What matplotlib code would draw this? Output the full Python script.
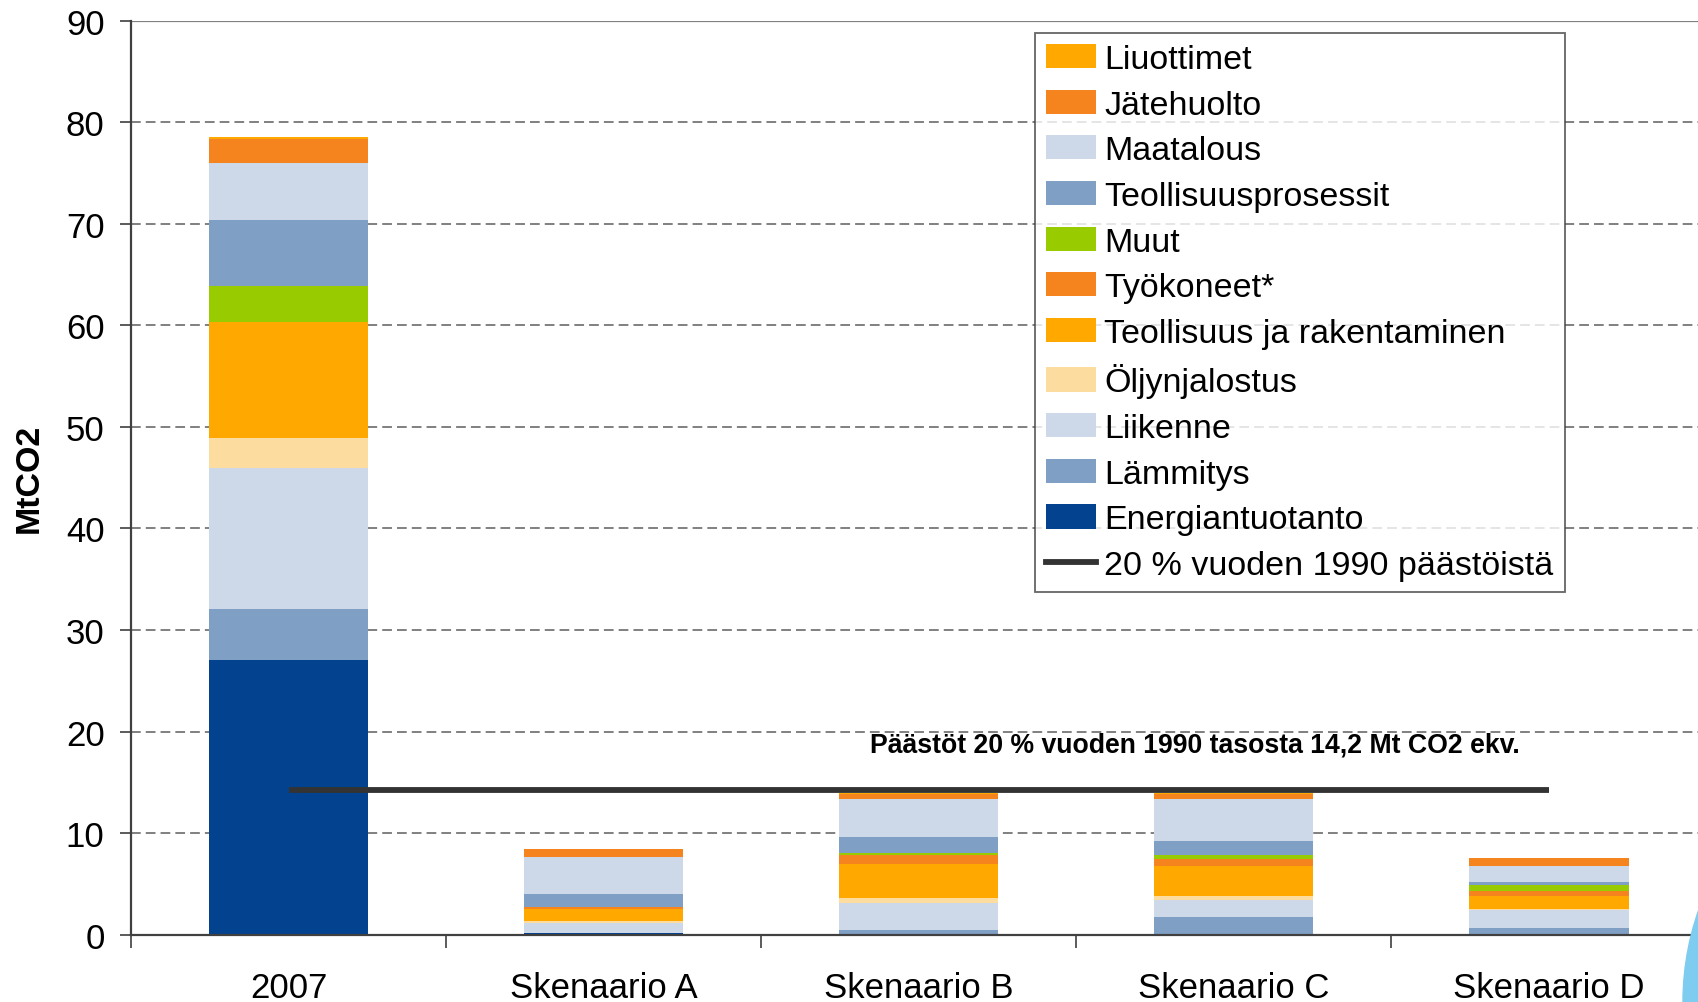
import matplotlib
matplotlib.use("Agg")
import matplotlib.pyplot as plt
import numpy as np
from matplotlib.patches import Ellipse
from matplotlib.lines import Line2D
from matplotlib.patches import Patch

plt.rcParams['font.family'] = ['Liberation Sans', 'DejaVu Sans']

categories = ['2007', 'Skenaario A', 'Skenaario B', 'Skenaario C', 'Skenaario D']
energiantuotanto = [27.08, 0.15, 0.0, 0.0, 0.09]
lammitys = [5.01, 0.0, 0.45, 1.73, 0.59]
liikenne = [13.87, 1.0, 2.66, 1.68, 1.77]
oljynjalostus = [2.98, 0.17, 0.49, 0.39, 0.10]
teollisuus = [11.38, 1.18, 3.35, 2.95, 1.29]
tyokoneet = [0.0, 0.23, 0.89, 0.69, 0.49]
muut = [3.55, 0.0, 0.20, 0.40, 0.59]
prosessit = [6.50, 1.25, 1.57, 1.38, 0.26]
maatalous = [5.61, 3.64, 3.74, 4.13, 1.57]
jatehuolto = [2.37, 0.80, 0.50, 0.50, 0.79]
liuottimet = [0.19, 0.0, 0.05, 0.05, 0.0]
target_level = 14.2

series = [
    ('Energiantuotanto', energiantuotanto, '#03428F'),
    ('Lämmitys', lammitys, '#7F9FC5'),
    ('Liikenne', liikenne, '#CDD9E8'),
    ('Öljynjalostus', oljynjalostus, '#FDDD9F'),
    ('Teollisuus ja rakentaminen', teollisuus, '#FFA800'),
    ('Työkoneet*', tyokoneet, '#F5841F'),
    ('Muut', muut, '#99CC00'),
    ('Teollisuusprosessit', prosessit, '#7F9FC5'),
    ('Maatalous', maatalous, '#CDD9E8'),
    ('Jätehuolto', jatehuolto, '#F5841F'),
    ('Liuottimet', liuottimet, '#FFA800'),
]

W, H = 1698, 1003
fig = plt.figure(figsize=(W / 100, H / 100), dpi=100)
ax = fig.add_axes([131 / W, 1 - 935.6 / H, 1575.6 / W, 913.9 / H])

x = np.arange(len(categories))
bottom = np.zeros(len(categories))
handles = []
for name, vals, col in series:
    v = np.array(vals, dtype=float)
    ax.bar(x, v, 0.505, bottom=bottom, color=col, zorder=3, linewidth=0)
    bottom += v
    handles.append(Patch(facecolor=col, edgecolor='none', label=name))

ax.plot([x[0], x[-1]], [target_level, target_level], color='#333333', lw=4.2,
        zorder=4, solid_capstyle='butt')

ax.text(2.875, 18.7, 'Päästöt 20 % vuoden 1990 tasosta 14,2 Mt CO2 ekv.',
        ha='center', va='center', fontsize=19.2, fontweight='bold',
        family=['Liberation Sans'], zorder=5)

ax.set_xlim(-0.5, 4.5)
ax.set_ylim(0, 90)
ax.set_yticks(np.arange(0, 91, 10))
ax.set_yticklabels([str(v) for v in range(0, 91, 10)])
for yv in range(10, 90, 10):
    ax.axhline(yv, color='#808080', lw=1.4, linestyle=(0, (5, 2.6)), zorder=1)
ax.axhline(90, color='#808080', lw=1.6, zorder=1)

ax.set_xticks(np.arange(-0.5, 5.0, 1.0))
ax.set_xticklabels([])
ax.set_xticks(x, minor=True)
ax.set_xticklabels(categories, minor=True)
ax.tick_params(axis='x', which='major', direction='out', length=9, width=1.2, color='#404040')
ax.tick_params(axis='x', which='minor', length=0, pad=26, labelsize=25)
ax.tick_params(axis='y', direction='out', length=8, width=1.2, color='#404040', pad=11, labelsize=25)

for s in ['top', 'right']:
    ax.spines[s].set_visible(False)
ax.spines['left'].set_color('#404040')
ax.spines['left'].set_linewidth(1.6)
ax.spines['bottom'].set_color('#404040')
ax.spines['bottom'].set_linewidth(1.6)
ax.spines['bottom'].set_zorder(6)

fig.text(29 / W, 1 - 478 / H, 'MtCO2', rotation=90, ha='center', va='center',
         fontsize=24.5, fontweight='bold', family=['Liberation Sans'])

leg_handles = handles[::-1] + [Line2D([0], [0], color='#333333', lw=4.2,
                                      label='20 % vuoden 1990 päästöistä')]
leg = fig.legend(handles=leg_handles, loc='upper left',
                 bbox_to_anchor=(1035 / W, 1 - 34 / H), fontsize=24.5,
                 frameon=True, fancybox=False, borderaxespad=0,
                 handlelength=1.47, handleheight=0.72, handletextpad=0.25,
                 labelspacing=0.43, borderpad=0.32)
leg.get_frame().set_edgecolor('#404040')
leg.get_frame().set_linewidth(1.3)

# partial logo shape at bottom-right corner
fig.patches.append(Ellipse((1960 / W, 0.0), 2 * 277 / W, 2 * 277 / H,
                           transform=fig.transFigure, color='#7ECCF0',
                           zorder=0))

fig.savefig('out.png', dpi=100)
